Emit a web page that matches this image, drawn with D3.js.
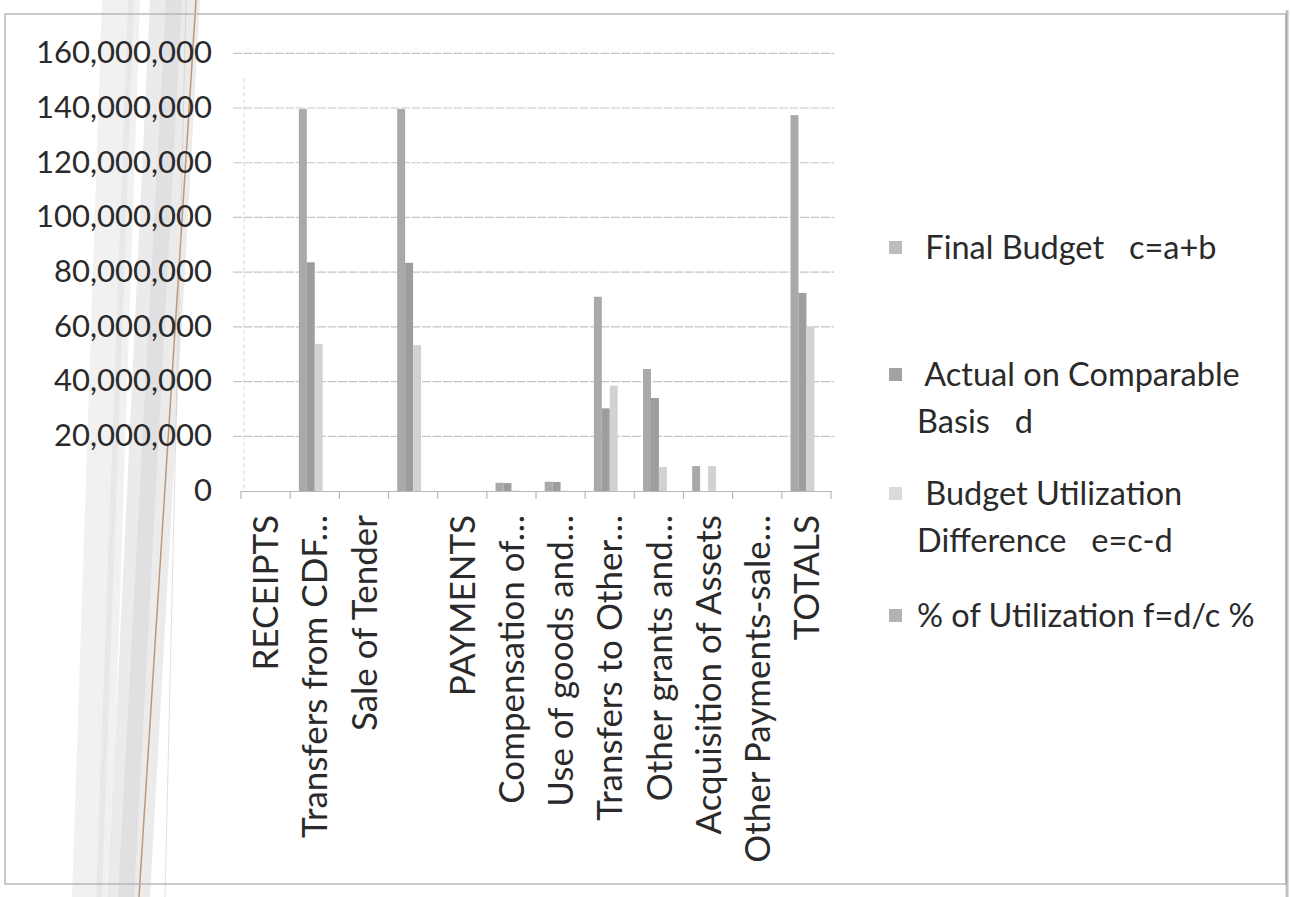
<!DOCTYPE html>
<html>
<head>
<meta charset="utf-8">
<script src="https://cdn.jsdelivr.net/npm/d3@7"></script>
<style>
  html, body { margin: 0; padding: 0; background: #ffffff; }
  svg { display: block; }
  text { font-family: Lato, "Open Sans", sans-serif; fill: #2a2a2a; }
</style>
</head>
<body>
<svg id="chart" width="1290" height="897"></svg>
<script>
// Budget execution by line item (KES)
const categories = [
  "RECEIPTS",
  "Transfers from CDF\u2026",
  "Sale of Tender",
  "",
  "PAYMENTS",
  "Compensation of\u2026",
  "Use of goods and\u2026",
  "Transfers to Other\u2026",
  "Other grants and\u2026",
  "Acquisition of Assets",
  "Other Payments-sale\u2026",
  "TOTALS"
];

const seriesNames = [
  " Final Budget   c=a+b",
  " Actual on Comparable Basis   d",
  " Budget Utilization Difference   e=c-d",
  "% of Utilization f=d/c %"
];

const finalBudget   = [0, 139600000, 0, 139600000, 0, 3000000, 3400000, 71000000, 44600000, 9100000, 0, 137400000];
const actualBasis   = [0,  83600000, 0,  83400000, 0, 2900000, 3300000, 30200000, 34000000,       0, 0,  72400000];
const utilDiff      = [0,  53800000, 0,  53300000, 0,  150000,  100000, 38500000,  8800000, 9100000, 0,  60000000];
const utilPercent   = [0,        60, 0,        60, 0,       97,      97,       43,       76,       0, 0,        53];

const yTicks = [0, 20000000, 40000000, 60000000, 80000000, 100000000, 120000000, 140000000, 160000000];

const seriesFill = ["#a9a9a9", "#9d9d9d", "#d2d2d2", "#a4a4a4"];
const legendFill = ["#bdbdbd", "#a3a3a3", "#dadada", "#b3b3b3"];

const svg = d3.select("#chart");

// paper background with a few faint vertical streaks along the left edge
const streaks = svg.append("g").attr("class", "streaks");
[
  { top: [102, 140], bottom: [72, 110], fill: "#ebebed", op: 0.7 },
  { top: [150, 200], bottom: [108, 150], fill: "#e2e2e4", op: 0.7 },
  { top: [166, 182], bottom: [118, 134], fill: "#d6d6d9", op: 0.5 },
  { top: [128, 134], bottom: [96, 102], fill: "#e2e2e8", op: 0.6 }
].forEach(s => {
  streaks.append("polygon")
    .attr("points", `${s.top[0]},0 ${s.top[1]},0 ${s.bottom[1]},897 ${s.bottom[0]},897`)
    .attr("fill", s.fill)
    .attr("opacity", s.op);
});
svg.append("line")
  .attr("x1", 196).attr("y1", 0).attr("x2", 139).attr("y2", 897)
  .attr("stroke", "#b48a66").attr("stroke-width", 1.5).attr("opacity", 0.85);
svg.append("line")
  .attr("x1", 186).attr("y1", 0).attr("x2", 165).attr("y2", 897)
  .attr("stroke", "#c9b9b0").attr("stroke-width", 1).attr("opacity", 0.45);

// chart frame
svg.append("rect")
  .attr("x", 5).attr("y", 14).attr("width", 1281).attr("height", 870)
  .attr("fill", "none").attr("stroke", "#b4b4b8").attr("stroke-width", 1.4);
svg.append("line")
  .attr("x1", 1287).attr("y1", 10).attr("x2", 1287).attr("y2", 897)
  .attr("stroke", "#9a9a9a").attr("stroke-width", 3).attr("opacity", 0.6);

const plot = { left: 241, right: 831, top: 53.3, bottom: 491 };

const y = d3.scaleLinear().domain([0, 160000000]).range([plot.bottom, plot.top]);
const x0 = d3.scaleBand().domain(d3.range(categories.length)).range([plot.left, plot.right]);
const x1 = d3.scaleBand().domain(d3.range(seriesNames.length))
  .range([0, x0.bandwidth()]).paddingInner(0).paddingOuter(1.095);

// horizontal gridlines
svg.append("g").selectAll("line")
  .data(yTicks.slice(1))
  .join("line")
  .attr("x1", plot.left - 8).attr("x2", plot.right + 3)
  .attr("y1", d => y(d)).attr("y2", d => y(d))
  .attr("stroke", "#c6c6c6").attr("stroke-width", 1.2)
  .attr("stroke-dasharray", "9,1.5");

// value axis labels
const yAxis = d3.axisLeft(y).tickValues(yTicks).tickFormat(d3.format(",")).tickSize(0).tickPadding(0);
const gy = svg.append("g").attr("transform", `translate(212,0)`).call(yAxis);
gy.select(".domain").remove();
gy.selectAll("text").attr("font-size", 31).attr("dy", "0.3em").style("font-family", "Lato, sans-serif").attr("fill", "#2a2a2a");

// faint vertical axis line
svg.append("line")
  .attr("x1", plot.left + 3).attr("x2", plot.left + 3)
  .attr("y1", plot.top + 25).attr("y2", plot.bottom)
  .attr("stroke", "#d8d8d8").attr("stroke-dasharray", "4,3");

// bars
const seriesData = [finalBudget, actualBasis, utilDiff, utilPercent];
const groups = svg.append("g").selectAll("g")
  .data(categories.map((c, i) => i))
  .join("g")
  .attr("transform", i => `translate(${x0(i)},0)`);

groups.selectAll("rect")
  .data(i => seriesData.map((s, k) => ({ k, v: s[i] })))
  .join("rect")
  .attr("x", d => x1(d.k))
  .attr("width", x1.bandwidth())
  .attr("y", d => y(d.v))
  .attr("height", d => plot.bottom - y(d.v))
  .attr("fill", d => seriesFill[d.k]);

// category axis
const xAxis = d3.axisBottom(x0).tickFormat(i => categories[i]).tickSize(0).tickPadding(0);
const gx = svg.append("g").attr("transform", `translate(0,${plot.bottom})`).call(xAxis);
gx.select(".domain").attr("stroke", "#b8b8b8").attr("stroke-width", 1.2);
gx.selectAll("text")
  .attr("font-size", 35)
  .style("font-family", "Lato, sans-serif")
  .attr("fill", "#2a2a2a")
  .attr("text-anchor", "end")
  .attr("transform", "rotate(-90)")
  .attr("x", -24)
  .attr("y", 0)
  .attr("dy", "0.36em");

// category separators
svg.append("g").selectAll("line")
  .data(d3.range(categories.length + 1))
  .join("line")
  .attr("x1", i => plot.left + i * x0.step())
  .attr("x2", i => plot.left + i * x0.step())
  .attr("y1", plot.bottom).attr("y2", plot.bottom + 8)
  .attr("stroke", "#b8b8b8").attr("stroke-width", 1.2);

// legend
const legendRows = [
  { lines: [" Final Budget   c=a+b"], y: 248 },
  { lines: [" Actual on Comparable", "Basis   d"], y: 375 },
  { lines: [" Budget Utilization", "Difference   e=c-d"], y: 494 },
  { lines: ["% of Utilization f=d/c %"], y: 616 }
];
const legend = svg.append("g");
legendRows.forEach((row, k) => {
  legend.append("rect")
    .attr("x", 889).attr("y", row.y - 7).attr("width", 13).attr("height", 13)
    .attr("fill", legendFill[k]);
  row.lines.forEach((ln, j) => {
    legend.append("text")
      .attr("x", 917)
      .attr("y", row.y + j * 47)
      .attr("dy", "0.35em")
      .attr("font-size", 32.5)
      .attr("xml:space", "preserve")
      .style("white-space", "pre")
      .text(ln);
  });
});
</script>
</body>
</html>
